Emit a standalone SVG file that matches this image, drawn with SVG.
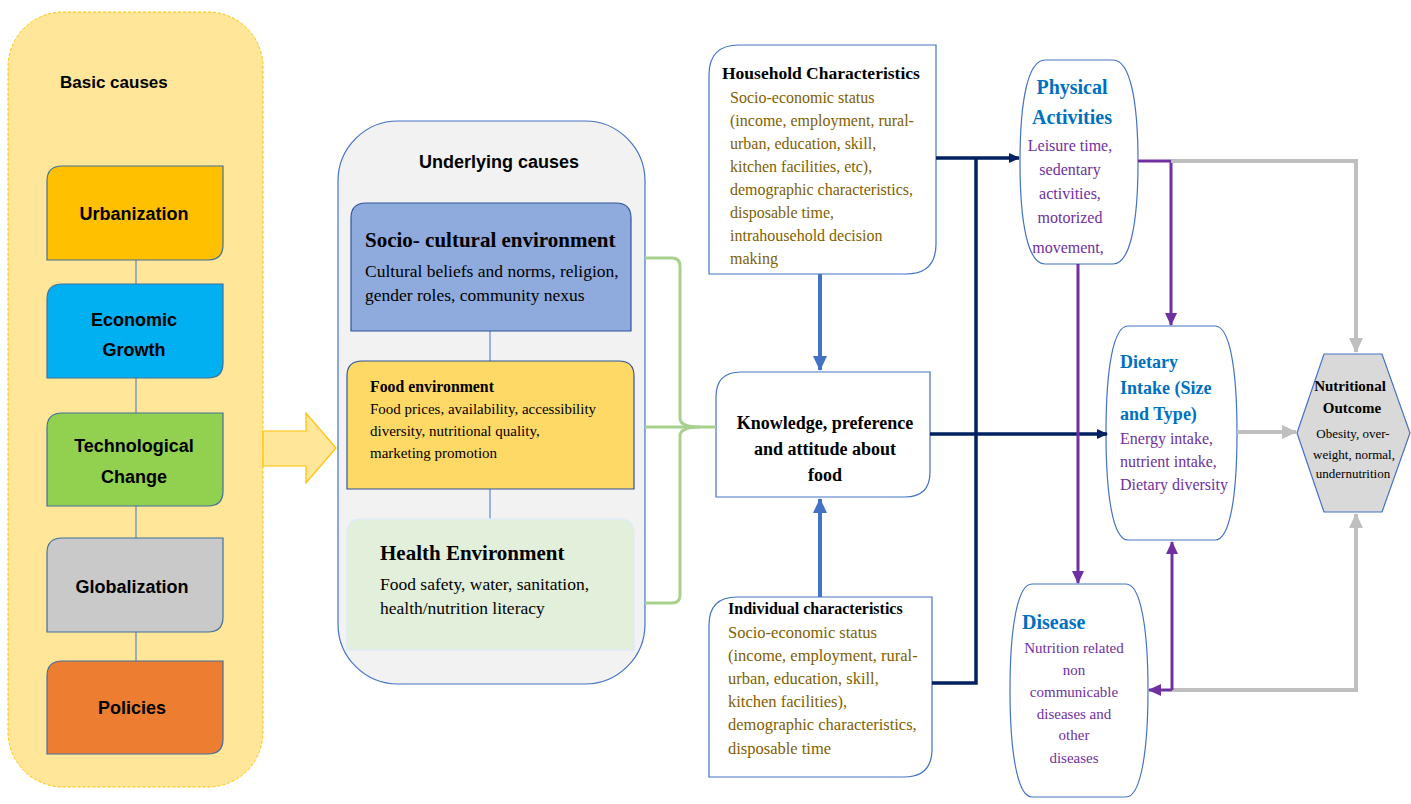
<svg xmlns="http://www.w3.org/2000/svg" width="1411" height="804" viewBox="0 0 1411 804">
<style>
.sans{font-family:"Liberation Sans",Arial,sans-serif;font-weight:bold;fill:#000}
.serif{font-family:"Liberation Serif","Times New Roman",serif}
.b{font-weight:bold}
.olive{fill:#7F6000}
.purple{fill:#7030A0}
.blue{fill:#0070C0;font-weight:bold}
.mid{text-anchor:middle}
.thin{stroke:#4472C4;stroke-width:1;fill:none}
.box{stroke:#41719C;stroke-width:1.2}
.node{fill:#fff;stroke:#4472C4;stroke-width:1.2}
</style>
<defs>
<marker id="aNavy" markerUnits="userSpaceOnUse" markerWidth="12" markerHeight="12" refX="10" refY="6" orient="auto"><path d="M0,1 L11,6 L0,11 Z" fill="#002060"/></marker>
<marker id="aBlue" markerUnits="userSpaceOnUse" markerWidth="16" markerHeight="16" refX="14" refY="8" orient="auto"><path d="M0,1 L15,8 L0,15 Z" fill="#4472C4"/></marker>
<marker id="aPurple" markerUnits="userSpaceOnUse" markerWidth="14" markerHeight="14" refX="12" refY="7" orient="auto"><path d="M0,1 L13,7 L0,13 Z" fill="#7030A0"/></marker>
<marker id="aGray" markerUnits="userSpaceOnUse" markerWidth="16" markerHeight="16" refX="14" refY="8" orient="auto"><path d="M0,1 L15,8 L0,15 Z" fill="#BFBFBF"/></marker>
</defs>
<rect width="1411" height="804" fill="#fff"/>

<g id="basic-causes">
<rect x="8" y="12" width="255" height="775" rx="55" fill="#FFE699" stroke="#FFC000" stroke-width="1" stroke-dasharray="3,2"/>
<text class="sans" x="60" y="88" font-size="17">Basic causes</text>
</g>
<g id="basic-links">
<line class="thin" x1="136" y1="260" x2="136" y2="284"/>
<line class="thin" x1="136" y1="378" x2="136" y2="413"/>
<line class="thin" x1="136" y1="506" x2="136" y2="538"/>
<line class="thin" x1="136" y1="632" x2="136" y2="661"/>
</g>
<g id="urbanization">
<path class="box" fill="#FFC000" d="M62,166 H223 V245 Q223,260 208,260 H47 V181 Q47,166 62,166 Z"/>
<text class="sans mid" x="134" y="220" font-size="18">Urbanization</text>
</g>
<g id="economic-growth">
<path class="box" fill="#00B0F0" d="M62,284 H223 V363 Q223,378 208,378 H47 V299 Q47,284 62,284 Z"/>
<text class="sans mid" x="134" y="326" font-size="18">Economic</text>
<text class="sans mid" x="134" y="356" font-size="18">Growth</text>
</g>
<g id="technological-change">
<path class="box" fill="#92D050" d="M62,413 H223 V491 Q223,506 208,506 H47 V428 Q47,413 62,413 Z"/>
<text class="sans mid" x="134" y="452" font-size="18">Technological</text>
<text class="sans mid" x="134" y="483" font-size="18">Change</text>
</g>
<g id="globalization">
<path class="box" fill="#C9C9C9" d="M62,538 H223 V617 Q223,632 208,632 H47 V553 Q47,538 62,538 Z"/>
<text class="sans mid" x="132" y="593" font-size="18">Globalization</text>
</g>
<g id="policies">
<path class="box" fill="#ED7D31" d="M62,661 H223 V739 Q223,754 208,754 H47 V676 Q47,661 62,661 Z"/>
<text class="sans mid" x="132" y="714" font-size="18">Policies</text>
</g>

<g id="big-arrow">
<polygon points="263,431 306,431 306,413 336,448 306,483 306,466 263,466" fill="#FFE699" stroke="#FFC000" stroke-width="1.2"/>
</g>

<g id="underlying-causes">
<rect x="338" y="121" width="307" height="563" rx="60" fill="#F2F2F2" stroke="#4472C4" stroke-width="1.2"/>
<text class="sans mid" x="499" y="168" font-size="18">Underlying causes</text>
</g>
<g id="underlying-links">
<line class="thin" x1="490" y1="331" x2="490" y2="361"/>
<line class="thin" x1="490" y1="489" x2="490" y2="519"/>
</g>
<g id="socio-cultural">
<path d="M366,203 H616 Q631,203 631,218 V331 H351 V218 Q351,203 366,203 Z" fill="#8FAADC" stroke="#2F5597" stroke-width="1.2"/>
<text class="serif b" x="365" y="247" font-size="21">Socio- cultural environment</text>
<text class="serif" x="365" y="277" font-size="17.5">Cultural beliefs and norms, religion,</text>
<text class="serif" x="365" y="301" font-size="17.5">gender roles, community nexus</text>
</g>
<g id="food-environment">
<path d="M362,361 H619 Q634,361 634,376 V489 H347 V376 Q347,361 362,361 Z" fill="#FFD966" stroke="#2F5597" stroke-width="1.2"/>
<text class="serif b" x="370" y="392" font-size="15.8">Food environment</text>
<text class="serif" x="370" y="414" font-size="15">Food prices, availability, accessibility</text>
<text class="serif" x="370" y="436" font-size="15">diversity, nutritional quality,</text>
<text class="serif" x="370" y="458" font-size="15">marketing promotion</text>
</g>
<g id="health-environment">
<path d="M362,519 H619 Q634,519 634,534 V650 H347 V534 Q347,519 362,519 Z" fill="#E2EFDA" stroke="#DEEBF7" stroke-width="1.5"/>
<text class="serif b" x="380" y="560" font-size="21">Health Environment</text>
<text class="serif" x="380" y="590" font-size="17.5">Food safety, water, sanitation,</text>
<text class="serif" x="380" y="614" font-size="17.5">health/nutrition literacy</text>
</g>

<g id="household-characteristics">
<path class="node" d="M739,45 H936 V244 Q936,274 906,274 H709 V75 Q709,45 739,45 Z"/>
<text class="serif b" x="722" y="79" font-size="17.5">Household Characteristics</text>
<text class="serif olive" x="730" y="103" font-size="16">Socio-economic status</text>
<text class="serif olive" x="730" y="126" font-size="16">(income, employment, rural-</text>
<text class="serif olive" x="730" y="149" font-size="16">urban, education, skill,</text>
<text class="serif olive" x="730" y="172" font-size="16">kitchen facilities, etc),</text>
<text class="serif olive" x="730" y="195" font-size="16">demographic characteristics,</text>
<text class="serif olive" x="730" y="218" font-size="16">disposable time,</text>
<text class="serif olive" x="730" y="241" font-size="16">intrahousehold decision</text>
<text class="serif olive" x="730" y="264" font-size="16">making</text>
</g>
<g id="knowledge">
<path class="node" d="M741,372 H930 V472 Q930,497 905,497 H716 V397 Q716,372 741,372 Z"/>
<text class="serif b mid" x="825" y="429" font-size="18">Knowledge, preference</text>
<text class="serif b mid" x="825" y="455" font-size="18">and attitude about</text>
<text class="serif b mid" x="825" y="481" font-size="18">food</text>
</g>
<g id="individual-characteristics">
<path class="node" d="M737,597 H932 V749 Q932,777 904,777 H709 V625 Q709,597 737,597 Z"/>
<text class="serif b" x="728" y="614" font-size="16">Individual characteristics</text>
<text class="serif olive" x="728" y="638" font-size="16.5">Socio-economic status</text>
<text class="serif olive" x="728" y="661" font-size="16.5">(income, employment, rural-</text>
<text class="serif olive" x="728" y="684" font-size="16.5">urban, education, skill,</text>
<text class="serif olive" x="728" y="707" font-size="16.5">kitchen facilities),</text>
<text class="serif olive" x="728" y="730" font-size="16.5">demographic characteristics,</text>
<text class="serif olive" x="728" y="754" font-size="16.5">disposable time</text>
</g>

<g id="physical-activities">
<path class="node" d="M1045,60 H1113 C1130,60 1138,100 1138,162 C1138,224 1130,264 1113,264 H1045 C1028,264 1020,224 1020,162 C1020,100 1028,60 1045,60 Z"/>
<text class="serif blue mid" x="1072" y="94" font-size="20">Physical</text>
<text class="serif blue mid" x="1072" y="124" font-size="20">Activities</text>
<text class="serif purple mid" x="1070" y="151" font-size="16">Leisure time,</text>
<text class="serif purple mid" x="1070" y="175" font-size="16">sedentary</text>
<text class="serif purple mid" x="1070" y="199" font-size="16">activities,</text>
<text class="serif purple mid" x="1070" y="223" font-size="16">motorized</text>
<text class="serif purple mid" x="1068" y="253" font-size="16">movement,</text>
</g>
<g id="dietary-intake">
<path class="node" d="M1128,326 H1215 C1230,326 1237,370 1237,433 C1237,496 1230,540 1215,540 H1128 C1113,540 1106,496 1106,433 C1106,370 1113,326 1128,326 Z"/>
<text class="serif blue" x="1120" y="368" font-size="18">Dietary</text>
<text class="serif blue" x="1120" y="394" font-size="18">Intake (Size</text>
<text class="serif blue" x="1120" y="420" font-size="18">and Type)</text>
<text class="serif purple" x="1120" y="444" font-size="16">Energy intake,</text>
<text class="serif purple" x="1120" y="467" font-size="16">nutrient intake,</text>
<text class="serif purple" x="1120" y="490" font-size="16">Dietary diversity</text>
</g>
<g id="disease">
<path class="node" d="M1032,584 H1126 C1141,584 1148,630 1148,690 C1148,750 1141,797 1126,797 H1032 C1017,797 1010,750 1010,690 C1010,630 1017,584 1032,584 Z"/>
<text class="serif blue" x="1022" y="629" font-size="20">Disease</text>
<text class="serif purple mid" x="1074" y="653" font-size="15">Nutrition related</text>
<text class="serif purple mid" x="1074" y="675" font-size="15">non</text>
<text class="serif purple mid" x="1074" y="697" font-size="15">communicable</text>
<text class="serif purple mid" x="1074" y="719" font-size="15">diseases and</text>
<text class="serif purple mid" x="1074" y="740" font-size="15">other</text>
<text class="serif purple mid" x="1074" y="763" font-size="15">diseases</text>
</g>
<g id="nutritional-outcome">
<polygon points="1297,433 1324,354 1382,354 1410,433 1382,512 1324,512" fill="#D9D9D9" stroke="#4472C4" stroke-width="1.2"/>
<text class="serif b mid" x="1350" y="391" font-size="15">Nutritional</text>
<text class="serif b mid" x="1352" y="413" font-size="15">Outcome</text>
<text class="serif mid" x="1353" y="438" font-size="13">Obesity, over-</text>
<text class="serif mid" x="1354" y="459" font-size="13">weight, normal,</text>
<text class="serif mid" x="1353" y="478" font-size="13">undernutrition</text>
</g>

<g id="connectors" fill="none">
<path d="M645,258 H672 Q680,258 680,266 V418 Q680,427 700,427 Q680,427 680,436 V595 Q680,603 672,603 H645" stroke="#A9D18E" stroke-width="3"/>
<path d="M645,427 H716" stroke="#A9D18E" stroke-width="3"/>
<path d="M820,274 V370" stroke="#4472C4" stroke-width="4" marker-end="url(#aBlue)"/>
<path d="M820,597 V499" stroke="#4472C4" stroke-width="4" marker-end="url(#aBlue)"/>
<path d="M936,158 H1019" stroke="#002060" stroke-width="3.5" marker-end="url(#aNavy)"/>
<path d="M976,158 V683 H932" stroke="#002060" stroke-width="3.5"/>
<path d="M930,434 H1107" stroke="#002060" stroke-width="3.5" marker-end="url(#aNavy)"/>
<path d="M1138,161 H1171 V325" stroke="#7030A0" stroke-width="3" marker-end="url(#aPurple)"/>
<path d="M1078,264 V583" stroke="#7030A0" stroke-width="3" marker-end="url(#aPurple)"/>
<path d="M1171,161 H1356 V352" stroke="#BFBFBF" stroke-width="4" marker-end="url(#aGray)"/>
<path d="M1237,432 H1296" stroke="#BFBFBF" stroke-width="4" marker-end="url(#aGray)"/>
<path d="M1172,690 H1356 V514" stroke="#BFBFBF" stroke-width="4" marker-end="url(#aGray)"/>
<path d="M1172,690 V542" stroke="#7030A0" stroke-width="3" marker-end="url(#aPurple)"/>
<path d="M1172,690 H1149" stroke="#7030A0" stroke-width="3" marker-end="url(#aPurple)"/>
</g>
</svg>
